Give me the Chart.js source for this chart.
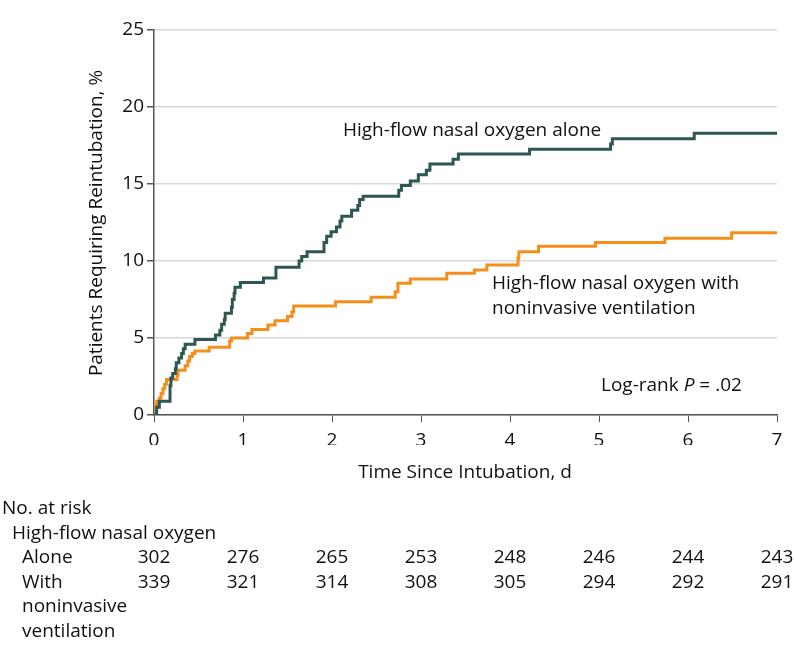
<!DOCTYPE html>
<html>
<head>
<meta charset="utf-8">
<script src="https://cdn.jsdelivr.net/npm/chart.js@4.4.0/dist/chart.umd.min.js"></script>
<style>
  html, body { margin: 0; padding: 0; background: #fff; }
  #wrap { width: 794px; height: 661px; }
</style>
</head>
<body>
<div id="wrap"><canvas id="kmChart" width="794" height="661"></canvas></div>
<script>
// Kaplan-Meier style cumulative reintubation
const aloneTimes = [0, 0.03, 0.06, 0.18, 0.19, 0.21, 0.24, 0.25, 0.28, 0.31, 0.33, 0.35, 0.46, 0.69, 0.74, 0.76, 0.79, 0.80, 0.87, 0.88, 0.90, 0.91, 0.97, 1.23, 1.37, 1.63, 1.66, 1.72, 1.91, 1.94, 1.99, 2.05, 2.09, 2.11, 2.22, 2.29, 2.31, 2.35, 2.75, 2.78, 2.88, 2.97, 3.06, 3.10, 3.36, 3.42, 4.22, 5.13, 5.15, 6.07, 7.0];
const aloneValues = [0, 0.5, 0.9, 1.9, 2.4, 2.7, 3.0, 3.4, 3.7, 4.0, 4.3, 4.6, 4.9, 5.2, 5.5, 5.9, 6.2, 6.6, 7.0, 7.5, 7.9, 8.3, 8.6, 8.9, 9.6, 10.0, 10.3, 10.6, 11.2, 11.6, 11.9, 12.2, 12.6, 12.9, 13.3, 13.6, 14.0, 14.2, 14.6, 14.9, 15.2, 15.6, 15.9, 16.3, 16.6, 16.95, 17.25, 17.6, 17.94, 18.29, 18.29];

const nivTimes = [0, 0.02, 0.03, 0.06, 0.08, 0.10, 0.12, 0.14, 0.26, 0.27, 0.35, 0.38, 0.40, 0.43, 0.46, 0.62, 0.85, 0.87, 1.05, 1.10, 1.28, 1.36, 1.50, 1.55, 1.57, 2.04, 2.44, 2.71, 2.74, 2.88, 3.29, 3.60, 3.74, 4.09, 4.10, 4.32, 4.96, 5.74, 6.49, 7.0];
const nivValues = [0, 0.6, 0.9, 1.1, 1.4, 1.7, 2.0, 2.3, 2.6, 2.9, 3.2, 3.5, 3.8, 4.0, 4.15, 4.4, 4.8, 5.0, 5.3, 5.55, 5.85, 6.12, 6.4, 6.7, 7.08, 7.36, 7.64, 8.0, 8.55, 8.83, 9.2, 9.42, 9.74, 10.2, 10.6, 10.95, 11.2, 11.47, 11.84, 11.84];

const xTicks = [0, 1, 2, 3, 4, 5, 6, 7];
const yTicks = [0, 5, 10, 15, 20, 25];
const riskAlone = [302, 276, 265, 253, 248, 246, 244, 243];
const riskNiv = [339, 321, 314, 308, 305, 294, 292, 291];

const FONT = "'Open Sans'";
const SIZE = 19;
const GREEN = "#2e5753";
const ORANGE = "#f68e1c";
const AXIS = "#555555";

function pts(ts, vs) {
  return ts.map((t, i) => ({ x: t, y: vs[i] }));
}

const annotate = {
  id: "annotate",
  afterDraw(chart) {
    const ctx = chart.ctx;
    const xs = chart.scales.x;
    const f = SIZE + "px " + FONT;
    ctx.save();
    ctx.fillStyle = "#111";
    ctx.font = f;
    ctx.textBaseline = "middle";

    // y axis title
    ctx.save();
    ctx.translate(97, 223);
    ctx.rotate(-Math.PI / 2);
    ctx.textAlign = "center";
    ctx.fillText("Patients Requiring Reintubation, %", 0, 0);
    ctx.restore();

    // x axis title
    ctx.textAlign = "center";
    ctx.fillText("Time Since Intubation, d", 465, 473);

    // curve labels
    ctx.textAlign = "left";
    ctx.fillText("High-flow nasal oxygen alone", 343, 131);
    ctx.fillText("High-flow nasal oxygen with", 492, 284);
    ctx.fillText("noninvasive ventilation", 492, 309);

    // log-rank text with italic P
    let x = 601;
    const y = 386;
    ctx.fillText("Log-rank ", x, y);
    x += ctx.measureText("Log-rank ").width;
    ctx.font = "italic " + f;
    ctx.fillText("P", x, y);
    x += ctx.measureText("P").width;
    ctx.font = f;
    ctx.fillText(" = .02", x, y);

    // number at risk table
    ctx.fillText("No. at risk", 2, 509);
    ctx.fillText("High-flow nasal oxygen", 12, 534);
    ctx.fillText("Alone", 22, 558);
    ctx.fillText("With", 22, 583);
    ctx.fillText("noninvasive", 22, 607);
    ctx.fillText("ventilation", 22, 632);
    ctx.textAlign = "center";
    xTicks.forEach((t, i) => {
      const px = xs.getPixelForValue(t);
      ctx.fillText(String(riskAlone[i]), px, 558);
      ctx.fillText(String(riskNiv[i]), px, 583);
    });
    ctx.restore();
  }
};

new Chart(document.getElementById("kmChart"), {
  type: "line",
  data: {
    datasets: [
      {
        label: "High-flow nasal oxygen alone",
        data: pts(aloneTimes, aloneValues),
        borderColor: GREEN,
        borderWidth: 3,
        stepped: true,
        pointRadius: 0,
        fill: false
      },
      {
        label: "High-flow nasal oxygen with noninvasive ventilation",
        data: pts(nivTimes, nivValues),
        borderColor: ORANGE,
        borderWidth: 3,
        stepped: true,
        pointRadius: 0,
        fill: false
      }
    ]
  },
  options: {
    responsive: false,
    animation: false,
    devicePixelRatio: 1,
    layout: {
      padding: { left: 0, top: 30, right: 17, bottom: 216 }
    },
    scales: {
      x: {
        type: "linear",
        min: 0,
        max: 7,
        afterFit(scale) { scale.height = 30; },
        afterBuildTicks(scale) { scale.ticks = xTicks.map(v => ({ value: v })); },
        grid: {
          drawOnChartArea: false,
          drawTicks: true,
          tickLength: 7,
          tickColor: AXIS
        },
        border: { display: true, color: AXIS, width: 1.5 },
        ticks: {
          color: "#111",
          padding: 7,
          maxRotation: 0,
          font: { family: "Open Sans", size: SIZE }
        }
      },
      y: {
        min: 0,
        max: 25,
        afterFit(scale) { scale.width = 154; },
        afterBuildTicks(scale) { scale.ticks = yTicks.map(v => ({ value: v })); },
        grid: {
          color: "#d8d8d8",
          lineWidth: 1.5,
          drawTicks: true,
          tickLength: 7,
          tickColor: AXIS
        },
        border: { display: true, color: AXIS, width: 1.5 },
        ticks: {
          color: "#111",
          padding: 3,
          font: { family: "Open Sans", size: SIZE }
        }
      }
    },
    plugins: {
      legend: { display: false },
      tooltip: { enabled: false }
    }
  },
  plugins: [annotate]
});
</script>
</body>
</html>
